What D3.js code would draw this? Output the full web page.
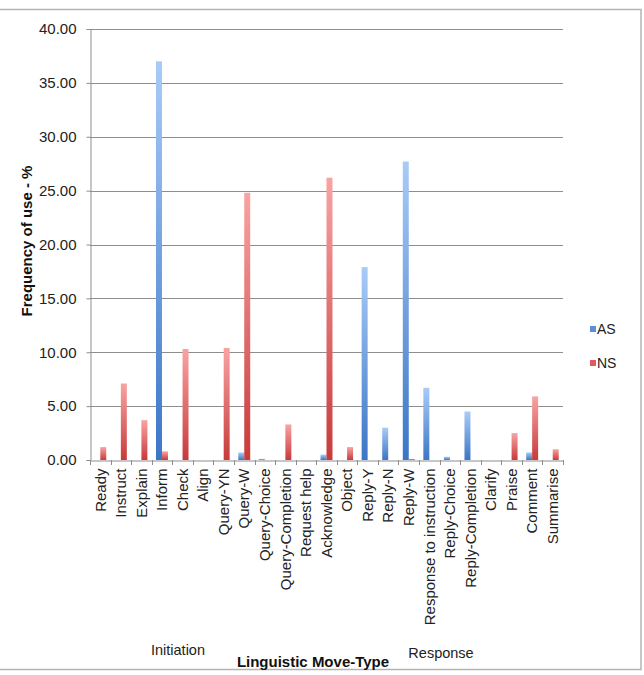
<!DOCTYPE html>
<html>
<head>
<meta charset="utf-8">
<script src="https://cdn.jsdelivr.net/npm/d3@7"></script>
<style>
  html, body { margin: 0; padding: 0; background: #fff; }
  svg { display: block; font-family: "Liberation Sans", Arial, sans-serif; }
</style>
</head>
<body>
<div id="chart"></div>
<script>
// Linguistic move types (x axis)
const categories = [
  'Ready', 'Instruct', 'Explain', 'Inform', 'Check', 'Align', 'Query-YN', 'Query-W',
  'Query-Choice', 'Query-Completion', 'Request help', 'Acknowledge', 'Object',
  'Reply-Y', 'Reply-N', 'Reply-W', 'Response to instruction', 'Reply-Choice',
  'Reply-Completion', 'Clarify', 'Praise', 'Comment', 'Summarise'
];
const seriesNames = ['AS', 'NS'];
const asValues = [0, 0, 0, 37.0, 0, 0, 0, 0.7, 0.1, 0, 0, 0.5, 0, 17.9, 3.0, 27.7, 6.7, 0.3, 4.5, 0, 0, 0.7, 0];
const nsValues = [1.2, 7.1, 3.7, 0.8, 10.3, 0, 10.4, 24.8, 0, 3.3, 0, 26.2, 1.2, 0, 0, 0.1, 0, 0, 0, 0, 2.5, 5.9, 1.0];
const yTicks = [0, 5, 10, 15, 20, 25, 30, 35, 40];
const groupLabels = ['Initiation', 'Response'];

const width = 644, height = 675;
const plot = { left: 90, right: 563, top: 29, bottom: 460 };
const fontFamily = '"Liberation Sans", Arial, sans-serif';

const svg = d3.select('#chart').append('svg')
  .attr('width', width)
  .attr('height', height);

// Gradients for the bars (light at top, darker at bottom)
const defs = svg.append('defs');
const grads = {
  AS: ['#a9cbf7', '#3b76c6'],
  NS: ['#f9a3a3', '#c83a3a']
};
Object.entries(grads).forEach(([k, c]) => {
  const g = defs.append('linearGradient')
    .attr('id', 'grad-' + k)
    .attr('x1', 0).attr('y1', 0).attr('x2', 0).attr('y2', 1);
  g.append('stop').attr('offset', '0%').attr('stop-color', c[0]);
  g.append('stop').attr('offset', '100%').attr('stop-color', c[1]);
});

// Outer frame (left edge falls outside the picture)
svg.append('rect')
  .attr('x', -5).attr('y', 9.5)
  .attr('width', 646).attr('height', 660)
  .attr('fill', 'none')
  .attr('stroke', '#b4b4b4')
  .attr('stroke-width', 1.5);

// Scales
const x0 = d3.scaleBand()
  .domain(categories)
  .range([plot.left, plot.right])
  .paddingInner(0)
  .paddingOuter(0);

const x1 = d3.scaleBand()
  .domain(seriesNames)
  .range([0, x0.bandwidth()])
  .paddingInner(0)
  .paddingOuter(0.72);

const y = d3.scaleLinear()
  .domain([0, 40])
  .range([plot.bottom, plot.top]);

// Gridlines
svg.append('g')
  .selectAll('line')
  .data(yTicks.filter(d => d > 0))
  .enter()
  .append('line')
  .attr('x1', plot.left)
  .attr('x2', plot.right)
  .attr('y1', d => Math.round(y(d)) + 0.5)
  .attr('y2', d => Math.round(y(d)) + 0.5)
  .attr('stroke', '#8e8e8e')
  .attr('stroke-width', 1);

// Y axis
const yAxis = svg.append('g')
  .attr('transform', `translate(${plot.left + 0.5},0)`)
  .call(d3.axisLeft(y).tickValues(yTicks).tickSize(4).tickPadding(10).tickFormat(d3.format('.2f')));
yAxis.select('.domain').attr('stroke', '#8e8e8e');
yAxis.selectAll('.tick line').attr('stroke', '#8e8e8e');
yAxis.selectAll('.tick text')
  .attr('fill', '#222')
  .style('font-size', '15px')
  .style('font-family', fontFamily);

// Bars
const rows = categories.map((c, i) => ({ cat: c, AS: asValues[i], NS: nsValues[i] }));
const groups = svg.append('g')
  .selectAll('g')
  .data(rows)
  .enter()
  .append('g')
  .attr('transform', d => `translate(${x0(d.cat)},0)`);

groups.selectAll('rect')
  .data(d => seriesNames.map(k => ({ key: k, value: d[k] })).filter(v => v.value > 0))
  .enter()
  .append('rect')
  .attr('x', d => x1(d.key))
  .attr('width', x1.bandwidth())
  .attr('y', d => y(d.value))
  .attr('height', d => y(0) - y(d.value))
  .attr('fill', d => `url(#grad-${d.key})`);

// X axis
const xAxis = svg.append('g')
  .attr('transform', `translate(0,${plot.bottom + 0.5})`)
  .call(d3.axisBottom(x0).tickSize(0).tickPadding(8));
xAxis.select('.domain').attr('stroke', '#8e8e8e');
xAxis.selectAll('.tick text')
  .attr('fill', '#222')
  .style('font-size', '15px')
  .style('font-family', fontFamily)
  .attr('text-anchor', 'end')
  .attr('transform', 'rotate(-90)')
  .attr('x', -8)
  .attr('y', 0)
  .attr('dy', '0.35em');

// Category boundary tick marks
svg.append('g')
  .selectAll('line')
  .data(d3.range(categories.length + 1))
  .enter()
  .append('line')
  .attr('x1', i => Math.round(plot.left + i * x0.step()) + 0.5)
  .attr('x2', i => Math.round(plot.left + i * x0.step()) + 0.5)
  .attr('y1', plot.bottom)
  .attr('y2', plot.bottom + 5)
  .attr('stroke', '#8e8e8e');

// Axis titles
svg.append('text')
  .attr('transform', 'translate(32,241) rotate(-90)')
  .attr('text-anchor', 'middle')
  .style('font-size', '15px')
  .style('font-weight', 'bold')
  .attr('fill', '#111')
  .text('Frequency of use - %');

svg.append('text')
  .attr('x', 313)
  .attr('y', 667)
  .attr('text-anchor', 'middle')
  .style('font-size', '15px')
  .style('font-weight', 'bold')
  .attr('fill', '#111')
  .text('Linguistic Move-Type');

svg.append('text')
  .attr('x', 178)
  .attr('y', 655)
  .attr('text-anchor', 'middle')
  .style('font-size', '14.5px')
  .attr('fill', '#222')
  .text(groupLabels[0]);

svg.append('text')
  .attr('x', 441)
  .attr('y', 658)
  .attr('text-anchor', 'middle')
  .style('font-size', '14.5px')
  .attr('fill', '#222')
  .text(groupLabels[1]);

// Legend
const legendColors = { AS: '#5a8fdc', NS: '#e05b5b' };
const legend = svg.append('g')
  .selectAll('g')
  .data(seriesNames)
  .enter()
  .append('g')
  .attr('transform', (d, i) => `translate(590,${329 + i * 34})`);
legend.append('rect')
  .attr('x', 0).attr('y', -3)
  .attr('width', 6).attr('height', 6)
  .attr('fill', d => legendColors[d]);
legend.append('text')
  .attr('x', 7)
  .attr('y', 0)
  .attr('dy', '0.35em')
  .style('font-size', '14px')
  .attr('fill', '#222')
  .text(d => d);
</script>
</body>
</html>
